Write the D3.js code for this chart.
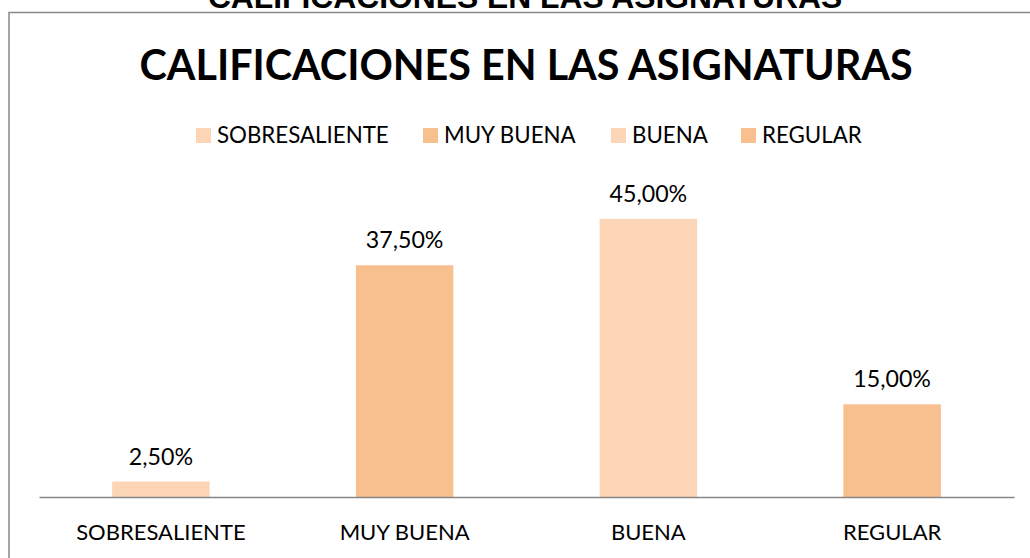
<!DOCTYPE html>
<html><head><meta charset="utf-8">
<script src="https://cdn.jsdelivr.net/npm/d3@7"></script>
<style>body{margin:0;background:#fff}svg{display:block}</style>
</head><body>
<script>
const categories = ["SOBRESALIENTE", "MUY BUENA", "BUENA", "REGULAR"];
const values = [0.025, 0.375, 0.45, 0.15];
const colors = ["#FBD5B5", "#F9C08F", "#FBD5B5", "#F9C08F"];
const title = "CALIFICACIONES EN LAS ASIGNATURAS";
const fmt = v => d3.format(".2f")(v * 100).replace(".", ",") + "%";

const W = 1030, H = 558;
const svg = d3.select("body").append("svg").attr("width", W).attr("height", H);
const font = "Lato, 'Open Sans', sans-serif";

// clipped title at very top (cut off in the reference too)
svg.append("text").attr("x", 525).attr("y", 8).attr("text-anchor", "middle")
  .attr("font-family", "'Liberation Sans', Arial, sans-serif").attr("font-weight", "bold")
  .attr("font-size", 31.8).attr("fill", "#000").text(title);

// chart frame
svg.append("rect").attr("x", 9).attr("y", 12.5).attr("width", 1100).attr("height", 600)
  .attr("fill", "#fff").attr("stroke", "#898989").attr("stroke-width", 1.5);

svg.append("text").attr("x", 526).attr("y", 80).attr("text-anchor", "middle")
  .attr("font-family", font).attr("font-weight", "bold").attr("font-size", 41.3)
  .attr("fill", "#000").text(title);

const x = d3.scaleBand().domain(categories).range([39, 1014]).paddingInner(0.6).paddingOuter(0.3);
const y = d3.scaleLinear().domain([0, 0.5]).range([497, 188]);

const g = svg.append("g");
g.selectAll("rect.bar").data(categories).join("rect").attr("class", "bar")
  .attr("x", d => x(d)).attr("width", x.bandwidth())
  .attr("y", (d, i) => y(values[i])).attr("height", (d, i) => y(0) - y(values[i]))
  .attr("fill", (d, i) => colors[i]);

g.selectAll("text.val").data(categories).join("text").attr("class", "val")
  .attr("x", d => x(d) + x.bandwidth() / 2).attr("y", (d, i) => y(values[i]) - 17)
  .attr("text-anchor", "middle").attr("font-family", font).attr("font-size", 23.2)
  .attr("fill", "#000").text((d, i) => fmt(values[i]));

const xAxis = svg.append("g").attr("transform", "translate(0,497)")
  .call(d3.axisBottom(x).tickSize(0).tickPadding(27));
xAxis.select(".domain").attr("stroke", "#868686").attr("stroke-width", 1.5);
xAxis.selectAll("text").attr("font-family", font).attr("font-size", 22).attr("fill", "#000");

// legend
const legendX = [196, 423, 611, 741];
const lg = svg.append("g");
categories.forEach((c, i) => {
  lg.append("rect").attr("x", legendX[i]).attr("y", 128).attr("width", 15).attr("height", 15).attr("fill", colors[i]);
  lg.append("text").attr("x", legendX[i] + 21).attr("y", 143).attr("font-family", font)
    .attr("font-size", 22.3).attr("fill", "#000").text(c);
});
</script>
</body></html>
